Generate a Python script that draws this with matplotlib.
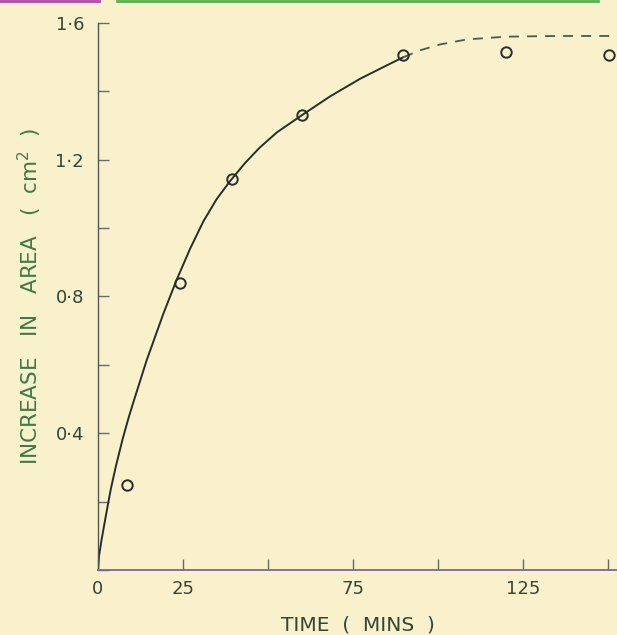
import matplotlib.pyplot as plt
from matplotlib.lines import Line2D

# measured points (time in mins, increase in area in cm^2)
t_obs = [8.5, 24.1, 39.4, 60.0, 89.7, 120.0, 150.3]
a_obs = [0.248, 0.84, 1.145, 1.33, 1.507, 1.515, 1.507]

# drawn curve
t_fit = [0, 0.3, 1.0, 1.8, 2.8, 3.8, 5.3, 7.3, 9.2, 10.7, 14.3, 19.2, 23.1, 27.1,
         31.0, 34.9, 38.8, 43.2, 47.5, 52.6, 59.9, 68.2, 77.1, 84.9, 89.8]
a_fit = [0, 0.04, 0.085, 0.13, 0.185, 0.238, 0.305, 0.385, 0.452, 0.5, 0.613, 0.749,
         0.848, 0.94, 1.02, 1.085, 1.137, 1.19, 1.235, 1.28, 1.33, 1.385, 1.437,
         1.476, 1.5]

# dashed extension
t_ext = [89.8, 95.0, 100.5, 108.5, 120.0, 135.0, 153.0]
a_ext = [1.5, 1.521, 1.537, 1.552, 1.560, 1.562, 1.562]

xticks = [0, 25, 50, 75, 100, 125, 150]
xlabels = ['0', '25', '', '75', '', '125', '']
yticks = [0, 0.2, 0.4, 0.6, 0.8, 1.0, 1.2, 1.4, 1.6]
ylabels = ['', '', '0·4', '', '0·8', '', '1·2', '', '1·6']

bg = '#f8f1cc'
ink = '#2b2b2b'
txt = '#354535'

fig = plt.figure(figsize=(6.17, 6.35), dpi=100, facecolor=bg)
ax = fig.add_axes([0.1588, 0.1024, 0.8412, 0.8614])
ax.set_facecolor(bg)

ax.plot(t_fit, a_fit, color=ink, lw=1.4, solid_capstyle='round',
        solid_joinstyle='round')
ax.plot(t_ext, a_ext, color='#4a5a48', lw=1.3, dashes=(5.5, 4.5))
ax.plot(t_obs, a_obs, 'o', ms=7.5, mfc='none', mec=ink, mew=1.4)

ax.set_xlim(0, 152.6)
ax.set_ylim(0, 1.6)
for s in ['top', 'right']:
    ax.spines[s].set_visible(False)
ax.spines['left'].set_color('#555555')
ax.spines['left'].set_linewidth(1.0)
ax.spines['bottom'].set_color('#7a6a88')
ax.spines['bottom'].set_linewidth(1.3)

ax.set_xticks(xticks)
ax.set_xticklabels(xlabels)
ax.set_yticks(yticks)
ax.set_yticklabels(ylabels)
ax.tick_params(direction='in', length=8, width=1.0, color='#6a6a6a',
               labelsize=13, labelcolor=txt)
ax.tick_params(axis='x', pad=7)
ax.tick_params(axis='y', pad=10)

ax.set_xlabel('TIME  (  MINS  )', fontsize=14.5, color=txt, labelpad=13)
ax.set_ylabel('INCREASE   IN   AREA   (  cm$^2$  )', fontsize=15.5,
              color='#3f7a45', labelpad=8)

# coloured rule along the top edge of the page
fig.add_artist(Line2D([0, 0.16], [0.998, 0.998], color='#b04aa8', lw=2))
fig.add_artist(Line2D([0.19, 0.97], [0.998, 0.998], color='#58b050', lw=2))

fig.savefig('out.png', dpi=100, facecolor=bg)
